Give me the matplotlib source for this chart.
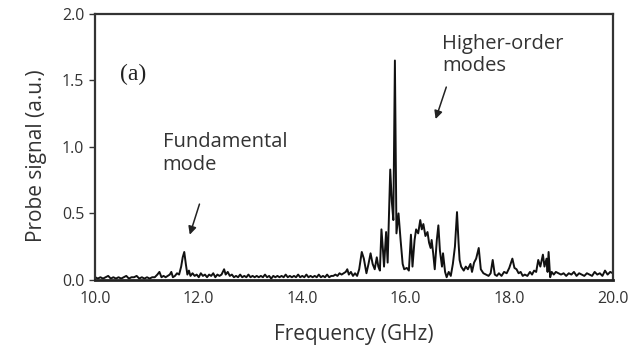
import matplotlib
matplotlib.use("Agg")
import matplotlib.pyplot as plt

freq = [10.00, 10.05, 10.10, 10.15, 10.20, 10.25, 10.30, 10.35, 10.40, 10.45, 10.50, 10.55, 10.60, 10.65,
        10.70, 10.75, 10.80, 10.85, 10.90, 10.95, 11.00, 11.05, 11.10, 11.15, 11.20, 11.24, 11.28, 11.32,
        11.36, 11.40, 11.44, 11.47, 11.50, 11.54, 11.58, 11.62, 11.66, 11.69, 11.72, 11.75, 11.78, 11.81,
        11.84, 11.88, 11.92, 11.96, 12.00, 12.04, 12.08, 12.12, 12.16, 12.20, 12.24, 12.28, 12.32, 12.36,
        12.40, 12.44, 12.49, 12.52, 12.56, 12.60, 12.64, 12.68, 12.72, 12.76, 12.80, 12.84, 12.88, 12.92,
        12.96, 13.00, 13.04, 13.08, 13.12, 13.16, 13.20, 13.24, 13.28, 13.32, 13.36, 13.40, 13.44, 13.48,
        13.52, 13.56, 13.60, 13.64, 13.68, 13.72, 13.76, 13.80, 13.84, 13.88, 13.92, 13.96, 14.00, 14.04,
        14.08, 14.12, 14.16, 14.20, 14.24, 14.28, 14.32, 14.36, 14.40, 14.44, 14.48, 14.52, 14.56, 14.60,
        14.64, 14.68, 14.72, 14.76, 14.80, 14.84, 14.87, 14.90, 14.94, 14.98, 15.02, 15.06, 15.10, 15.15,
        15.19, 15.24, 15.28, 15.32, 15.36, 15.40, 15.44, 15.47, 15.50, 15.53, 15.56, 15.58, 15.62, 15.65,
        15.70, 15.73, 15.76, 15.79, 15.82, 15.86, 15.90, 15.94, 15.97, 16.02, 16.06, 16.10, 16.13, 16.17,
        16.20, 16.24, 16.28, 16.31, 16.34, 16.38, 16.42, 16.45, 16.48, 16.50, 16.53, 16.56, 16.60, 16.63,
        16.66, 16.70, 16.72, 16.76, 16.79, 16.83, 16.87, 16.91, 16.95, 16.99, 17.02, 17.04, 17.07, 17.12,
        17.16, 17.20, 17.25, 17.28, 17.32, 17.36, 17.41, 17.45, 17.50, 17.55, 17.60, 17.64, 17.68, 17.72,
        17.76, 17.80, 17.85, 17.90, 17.95, 18.00, 18.06, 18.10, 18.14, 18.18, 18.22, 18.26, 18.30, 18.35,
        18.40, 18.44, 18.48, 18.52, 18.56, 18.60, 18.65, 18.68, 18.72, 18.74, 18.76, 18.79, 18.82, 18.86,
        18.90, 18.95, 19.00, 19.05, 19.10, 19.15, 19.20, 19.25, 19.30, 19.35, 19.40, 19.45, 19.50, 19.55,
        19.60, 19.65, 19.70, 19.75, 19.80, 19.85, 19.90, 19.95, 20.00]

signal = [0.02, 0.01, 0.02, 0.01, 0.02, 0.03, 0.01, 0.02, 0.01, 0.02, 0.01, 0.02, 0.03, 0.01,
          0.02, 0.02, 0.03, 0.01, 0.02, 0.01, 0.02, 0.01, 0.02, 0.02, 0.04, 0.06, 0.02, 0.03,
          0.02, 0.03, 0.04, 0.06, 0.02, 0.03, 0.05, 0.04, 0.10, 0.17, 0.21, 0.12, 0.04, 0.07,
          0.03, 0.05, 0.03, 0.04, 0.02, 0.05, 0.03, 0.04, 0.02, 0.04, 0.03, 0.05, 0.02, 0.04,
          0.03, 0.04, 0.08, 0.04, 0.06, 0.03, 0.04, 0.02, 0.03, 0.02, 0.04, 0.02, 0.03, 0.02,
          0.04, 0.02, 0.03, 0.02, 0.03, 0.02, 0.03, 0.02, 0.04, 0.02, 0.03, 0.01, 0.03, 0.02,
          0.03, 0.02, 0.03, 0.02, 0.04, 0.02, 0.03, 0.02, 0.03, 0.02, 0.04, 0.02, 0.03, 0.02,
          0.04, 0.02, 0.03, 0.02, 0.03, 0.02, 0.04, 0.02, 0.03, 0.02, 0.04, 0.02, 0.03, 0.03,
          0.04, 0.03, 0.05, 0.04, 0.05, 0.06, 0.08, 0.04, 0.06, 0.03, 0.05, 0.03, 0.08, 0.21,
          0.16, 0.05, 0.12, 0.20, 0.12, 0.08, 0.17, 0.10, 0.07, 0.38, 0.22, 0.10, 0.36, 0.13,
          0.83, 0.59, 0.45, 1.65, 0.35, 0.50, 0.30, 0.12, 0.08, 0.09, 0.07, 0.34, 0.10, 0.30,
          0.38, 0.35, 0.45, 0.38, 0.42, 0.33, 0.36, 0.28, 0.24, 0.30, 0.20, 0.08, 0.30, 0.41,
          0.22, 0.10, 0.20, 0.06, 0.02, 0.06, 0.03, 0.12, 0.25, 0.51, 0.28, 0.15, 0.10, 0.07,
          0.10, 0.08, 0.12, 0.06, 0.13, 0.16, 0.24, 0.08, 0.05, 0.04, 0.03, 0.05, 0.15, 0.04,
          0.03, 0.05, 0.03, 0.06, 0.05, 0.09, 0.16, 0.09, 0.08, 0.05, 0.06, 0.03, 0.04, 0.03,
          0.06, 0.04, 0.07, 0.06, 0.15, 0.10, 0.19, 0.10, 0.16, 0.06, 0.21, 0.02, 0.06, 0.04,
          0.06, 0.05, 0.04, 0.05, 0.03, 0.05, 0.04, 0.06, 0.03, 0.05, 0.04, 0.03, 0.05, 0.04,
          0.03, 0.06, 0.04, 0.05, 0.03, 0.07, 0.04, 0.06, 0.05]

xticks = [10.0, 12.0, 14.0, 16.0, 18.0, 20.0]
yticks = [0.0, 0.5, 1.0, 1.5, 2.0]

plt.rcParams['font.family'] = ['Open Sans', 'DejaVu Sans']

fig = plt.figure(figsize=(6.35, 3.49), dpi=100)
ax = fig.add_axes([0.150, 0.198, 0.815, 0.762])
ax.plot(freq, signal, color='#111111', lw=1.4)
ax.set_xlim(10, 20)
ax.set_ylim(0, 2.0)
ax.set_xticks(xticks)
ax.set_xticklabels([f"{v:.1f}" for v in xticks])
ax.set_yticks(yticks)
ax.set_yticklabels([f"{v:.1f}" for v in yticks])
ax.tick_params(axis='x', length=0, pad=8, labelsize=11.5, colors='#333333')
ax.tick_params(axis='y', length=4, width=1, direction='out', pad=4, labelsize=11.5, colors='#333333')
for s in ['left', 'right', 'top']:
    ax.spines[s].set_color('#333333')
    ax.spines[s].set_linewidth(1.6)
ax.spines['bottom'].set_color('#222222')
ax.spines['bottom'].set_linewidth(2.0)

ax.set_xlabel("Frequency (GHz)", fontsize=15, color='#333333', labelpad=12)
ax.set_ylabel("Probe signal (a.u.)", fontsize=15, color='#333333')
ax.yaxis.set_label_coords(-0.093, 0.466)

ax.text(10.48, 1.50, "(a)", fontsize=17, family='Liberation Serif', color='#222222')
ax.text(11.30, 1.11, "Fundamental\nmode", fontsize=14.5, color='#333333', va='top',
        linespacing=1.15)
ax.text(16.70, 1.85, "Higher-order\nmodes", fontsize=14.5, color='#333333', va='top',
        linespacing=1.15)
ax.annotate("", xy=(11.81, 0.32), xytext=(12.03, 0.59),
            arrowprops=dict(arrowstyle='-|>', color='#222222', lw=1.1, mutation_scale=12))
ax.annotate("", xy=(16.56, 1.19), xytext=(16.80, 1.47),
            arrowprops=dict(arrowstyle='-|>', color='#222222', lw=1.1, mutation_scale=12))

fig.savefig("out.png", dpi=100)
